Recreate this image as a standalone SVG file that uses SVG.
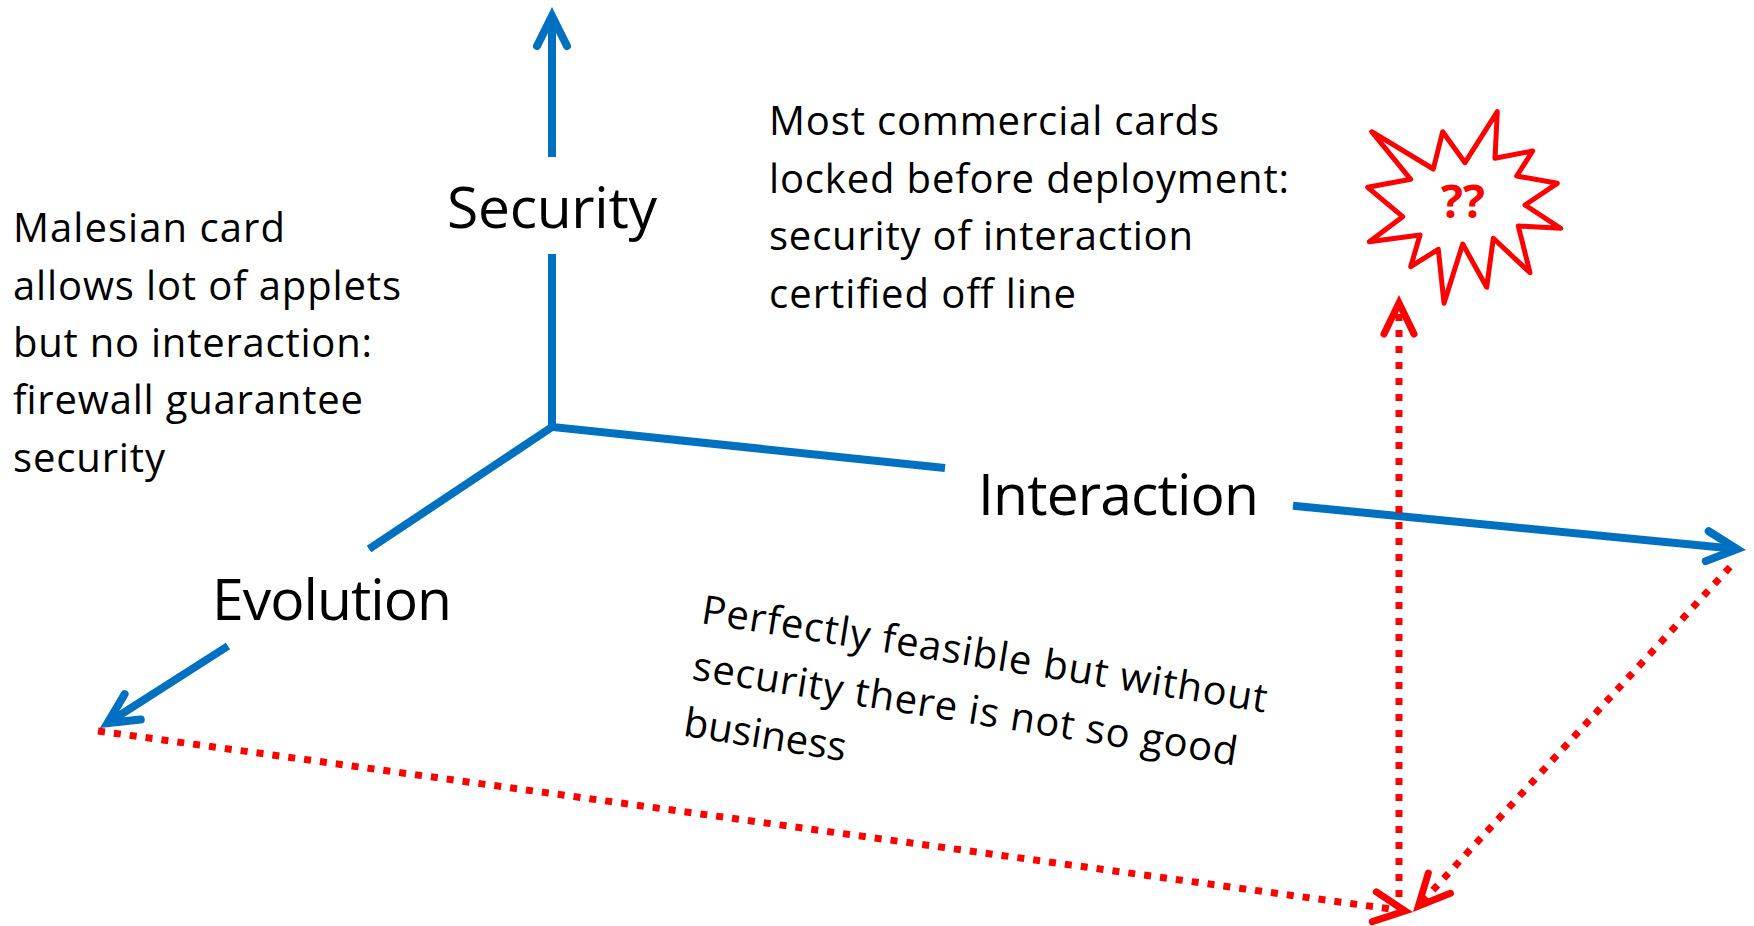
<svg xmlns="http://www.w3.org/2000/svg" width="1754" height="926" viewBox="0 0 1754 926">
  <style>
    .axis { fill: none; stroke: #0070C0; stroke-width: 8; stroke-linejoin: miter; }
    .dot { fill: none; stroke: #FF0000; stroke-width: 7; stroke-dasharray: 7 9; }
    .lbl { font-family: "Open Sans", "Liberation Sans", sans-serif; font-size: 57px; fill: #000000; }
    .txt { font-family: "Open Sans", "Liberation Sans", sans-serif; font-size: 40px; fill: #000000; }
    .qq { font-family: "Open Sans", "Liberation Sans", sans-serif; font-size: 46px; font-weight: bold; fill: #FF0000; }
  </style>
  <defs>
    <marker id="arrBlue" markerUnits="userSpaceOnUse" viewBox="-40 -24 48 48" markerWidth="48" markerHeight="48" refX="0" refY="0" orient="auto" overflow="visible">
      <path d="M-30,-15 L0,0 L-30,15" fill="none" stroke="#0070C0" stroke-width="8" stroke-linecap="round" stroke-linejoin="miter"/>
    </marker>
    <marker id="arrRed" markerUnits="userSpaceOnUse" viewBox="-40 -24 48 48" markerWidth="48" markerHeight="48" refX="0" refY="0" orient="auto" overflow="visible">
      <path d="M-31,-15 L0,0 L-31,15" fill="none" stroke="#FF0000" stroke-width="7" stroke-linecap="round" stroke-linejoin="miter"/>
    </marker>
  </defs>
  <rect x="0" y="0" width="1754" height="926" fill="#FFFFFF"/>

  <g id="connectors">
    <!-- blue axes -->
    <path class="axis" d="M552,254 L552,427 L945,468"/>
    <path class="axis" d="M552,157 L552,16" marker-end="url(#arrBlue)"/>
    <path class="axis" d="M1293,505.7 L1737.1,549.1" marker-end="url(#arrBlue)"/>
    <path class="axis" d="M552,427 L369,549"/>
    <path class="axis" d="M228,646 L107.4,723.1" marker-end="url(#arrBlue)"/>
    <!-- red dotted -->
    <path class="dot" d="M98,731 L1405,911" marker-end="url(#arrRed)"/>
    <path class="dot" d="M1730,567 L1418.4,906" marker-end="url(#arrRed)"/>
    <path class="dot" d="M1399,897 L1399,303" marker-end="url(#arrRed)"/>
  </g>

  <g id="security-label">
    <text class="lbl" x="447" y="228" textLength="210">Security</text>
  </g>
  <g id="interaction-label">
    <text class="lbl" x="978" y="515" textLength="281">Interaction</text>
  </g>
  <g id="evolution-label">
    <text class="lbl" x="212" y="620" textLength="240">Evolution</text>
  </g>

  <g id="malesian-note">
    <text class="txt" x="13" y="242" textLength="272">Malesian card</text>
    <text class="txt" x="13" y="300" textLength="388">allows lot of applets</text>
    <text class="txt" x="13" y="357" textLength="359">but no interaction:</text>
    <text class="txt" x="13" y="414" textLength="350">firewall guarantee</text>
    <text class="txt" x="13" y="472" textLength="152">security</text>
  </g>

  <g id="commercial-note">
    <text class="txt" x="769" y="135" textLength="450">Most commercial cards</text>
    <text class="txt" x="769" y="193" textLength="520">locked before deployment:</text>
    <text class="txt" x="769" y="250" textLength="424">security of interaction</text>
    <text class="txt" x="769" y="308" textLength="307">certified off line</text>
  </g>

  <g id="feasible-note" transform="translate(700,623) rotate(9)">
    <text class="txt" x="0" y="0" textLength="572">Perfectly feasible but without</text>
    <text class="txt" x="0" y="57" textLength="551">security there is not so good</text>
    <text class="txt" x="0" y="114" textLength="164">business</text>
  </g>

  <g id="question-burst">
    <polygon points="1371.7,131.7 1433.3,169 1442.7,131.7 1465,162.7 1497.3,111.7 1495,158.3 1532.7,151 1516.7,176 1557.3,183.3 1525,205 1560.7,228.3 1518.3,226 1530,272.7 1493.3,238.3 1486.7,287.3 1462.7,244 1444,303.3 1438.3,249.3 1410.7,266.7 1420,235 1369.3,241.7 1402.7,216.7 1367.7,187.3 1410.7,179.3" fill="#FFFFFF" stroke="#FF0000" stroke-width="5" stroke-linejoin="round"/>
    <text class="qq" x="1441" y="218" textLength="44" lengthAdjust="spacingAndGlyphs">??</text>
  </g>
</svg>
